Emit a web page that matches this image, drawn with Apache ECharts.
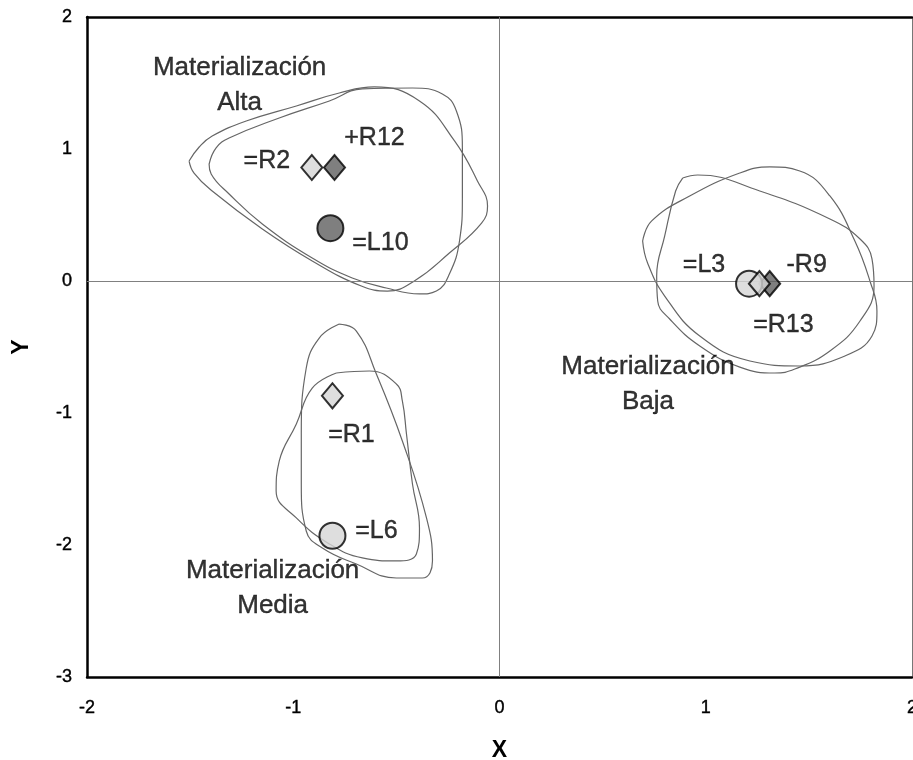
<!DOCTYPE html>
<html>
<head>
<meta charset="utf-8">
<script src="https://cdn.jsdelivr.net/npm/echarts@6/dist/echarts.min.js"></script>
<style>
  html, body { margin: 0; padding: 0; background: #ffffff; overflow: hidden; }
  #chart { width: 913px; height: 760px; }
</style>
</head>
<body>
<div id="chart"></div>
<script>
// ---- data ----
var xTicks = [-2, -1, 0, 1, 2];
var yTicks = [-3, -2, -1, 0, 1, 2];

var pointNames  = ['+R12', '-R9', '=L10', '=L3', '=L6', '=R2', '=R1', '=R13'];
var pointX      = [-0.80, 1.31, -0.82, 1.21, -0.81, -0.91, -0.81, 1.26];
var pointY      = [0.86, -0.02, 0.40, -0.02, -1.93, 0.86, -0.87, -0.02];
var pointShape  = ['diamond', 'diamond', 'circle', 'circle', 'circle', 'diamond', 'diamond', 'diamond'];
var pointShade  = ['dark', 'dark', 'dark', 'light', 'light', 'light', 'light', 'light'];

var groupNames = ['Materialización\nAlta', 'Materialización\nBaja', 'Materialización\nMedia'];
var groupX     = [-1.26, 0.72, -1.10];
var groupY     = [1.48, -0.78, -2.33];

// contour curves (closed)
var altaCurve1 = [[-1.505,0.909],[-1.456,1.015],[-1.393,1.098],[-1.228,1.212],[-0.985,1.326],[-0.777,1.424],[-0.607,1.470],[-0.388,1.364],[-0.218,1.061],[-0.107,0.758],[-0.058,0.568],[-0.087,0.439],[-0.243,0.212],[-0.413,0.000],[-0.544,-0.076],[-0.670,-0.038],[-0.908,0.152],[-1.150,0.394],[-1.393,0.682],[-1.481,0.818],[-1.505,0.909]];
var altaCurve2 = [[-1.408,0.886],[-1.374,1.008],[-1.311,1.083],[-1.068,1.235],[-0.825,1.364],[-0.665,1.455],[-0.422,1.462],[-0.277,1.417],[-0.209,1.288],[-0.180,1.008],[-0.180,0.629],[-0.194,0.303],[-0.243,0.053],[-0.306,-0.076],[-0.388,-0.098],[-0.549,-0.053],[-0.714,0.023],[-0.908,0.174],[-1.150,0.432],[-1.311,0.659],[-1.398,0.811],[-1.408,0.886]];
var bajaCurve1 = [[0.888,0.780],[0.961,0.803],[1.262,0.682],[1.602,0.470],[1.748,0.318],[1.806,0.167],[1.816,-0.038],[1.748,-0.303],[1.602,-0.530],[1.432,-0.667],[1.335,-0.697],[1.165,-0.652],[0.971,-0.492],[0.825,-0.288],[0.767,-0.152],[0.762,0.038],[0.801,0.341],[0.854,0.682],[0.888,0.780]];
var bajaCurve2 = [[0.694,0.303],[0.738,0.455],[0.922,0.644],[1.165,0.818],[1.311,0.864],[1.456,0.833],[1.602,0.644],[1.723,0.303],[1.796,0.000],[1.830,-0.227],[1.806,-0.417],[1.675,-0.568],[1.456,-0.644],[1.214,-0.606],[0.971,-0.417],[0.801,-0.114],[0.718,0.136],[0.694,0.303]];
var mediaCurve1 = [[-0.777,-0.326],[-0.694,-0.379],[-0.597,-0.705],[-0.471,-1.212],[-0.354,-1.795],[-0.325,-2.121],[-0.374,-2.250],[-0.500,-2.250],[-0.694,-2.144],[-0.859,-2.023],[-0.937,-1.894],[-0.961,-1.538],[-0.961,-1.159],[-0.937,-0.659],[-0.874,-0.432],[-0.777,-0.326]];
var mediaCurve2 = [[-0.791,-0.697],[-0.631,-0.682],[-0.500,-0.780],[-0.471,-0.909],[-0.451,-1.159],[-0.422,-1.538],[-0.388,-1.871],[-0.403,-2.068],[-0.500,-2.121],[-0.665,-2.098],[-0.825,-1.992],[-0.985,-1.795],[-1.083,-1.591],[-1.068,-1.364],[-0.985,-1.083],[-0.908,-0.811],[-0.791,-0.697]];

// ---- styles ----
var FONT = 'Liberation Sans, Arial, sans-serif';
var shadeColor = { dark: '#5f5f5f', light: '#d6d6d6' };
var labelOffsets = {
  '+R12': [40, -29], '-R9': [37, -19], '=L10': [50, 15], '=L3': [-45, -19],
  '=L6': [44, -5], '=R2': [-45, -6], '=R1': [19, 39], '=R13': [24, 41]
};
var TEXT = { color: '#000000', fontFamily: FONT, textBorderColor: '#000000', textBorderWidth: 0.4 };

var curves = [altaCurve1, altaCurve2, bajaCurve1, bajaCurve2, mediaCurve1, mediaCurve2];
var series = [];
curves.forEach(function (c, i) {
  var s = {
    type: 'line', data: c, smooth: 0.45, showSymbol: false, silent: true,
    lineStyle: { color: '#666666', width: 1.2 }, z: 2
  };
  if (i === 0) {
    s.markLine = {
      silent: true, symbol: 'none', label: { show: false },
      lineStyle: { color: '#808080', width: 1, type: 'solid' },
      data: [{ xAxis: 0 }, { yAxis: 0 }]
    };
  }
  series.push(s);
});

var pts = pointNames.map(function (n, i) {
  var shape = pointShape[i];
  return {
    name: n,
    value: [pointX[i], pointY[i]],
    symbol: shape,
    symbolSize: shape === 'circle' ? 26 : [21, 25],
    itemStyle: { color: shadeColor[pointShade[i]], borderColor: '#000000', borderWidth: 2 },
    label: Object.assign({
      show: true, formatter: n, position: 'inside', offset: labelOffsets[n], fontSize: 25
    }, TEXT)
  };
});
series.push({ type: 'scatter', data: pts, z: 5, silent: true });

series.push({
  type: 'scatter', z: 4, silent: true, symbolSize: 0,
  data: groupNames.map(function (g, i) {
    return { value: [groupX[i], groupY[i]], label: { show: true, formatter: g } };
  }),
  label: Object.assign({ position: 'inside', fontSize: 26, lineHeight: 35, align: 'center' }, TEXT)
});

var chart = echarts.init(document.getElementById('chart'), null, { renderer: 'canvas', width: 913, height: 760 });
chart.setOption({
  backgroundColor: '#ffffff',
  animation: false,
  grid: { left: 87, right: 1, top: 17, bottom: 83, containLabel: false, outerBoundsMode: 'none' },
  xAxis: [{
    type: 'value', min: xTicks[0], max: xTicks[xTicks.length - 1], interval: 1,
    name: 'X', nameLocation: 'middle', nameGap: 62,
    nameTextStyle: { fontSize: 23, fontWeight: 'bold', color: '#000', fontFamily: FONT },
    axisLine: { show: true, onZero: false, lineStyle: { color: '#000', width: 2.5 } },
    axisTick: { show: false }, splitLine: { show: false },
    axisLabel: Object.assign({ margin: 22, fontSize: 18 }, TEXT)
  }, {
    type: 'value', position: 'top', min: xTicks[0], max: xTicks[xTicks.length - 1], interval: 1,
    axisLine: { show: true, onZero: false, lineStyle: { color: '#000', width: 2.5 } },
    axisTick: { show: false }, splitLine: { show: false }, axisLabel: { show: false }
  }],
  yAxis: [{
    type: 'value', min: yTicks[0], max: yTicks[yTicks.length - 1], interval: 1,
    name: 'Y', nameLocation: 'middle', nameGap: 54,
    nameTextStyle: { fontSize: 23, fontWeight: 'bold', color: '#000', fontFamily: FONT },
    axisLine: { show: true, onZero: false, lineStyle: { color: '#000', width: 2.5 } },
    axisTick: { show: false }, splitLine: { show: false },
    axisLabel: Object.assign({ margin: 15, fontSize: 18 }, TEXT)
  }, {
    type: 'value', position: 'right', min: yTicks[0], max: yTicks[yTicks.length - 1], interval: 1,
    axisLine: { show: true, onZero: false, lineStyle: { color: '#777', width: 1 } },
    axisTick: { show: false }, splitLine: { show: false }, axisLabel: { show: false }
  }],
  series: series
});
</script>
</body>
</html>
